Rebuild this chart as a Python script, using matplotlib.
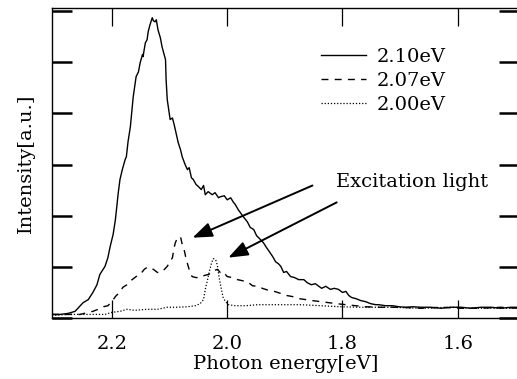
import matplotlib
matplotlib.use("Agg")
import matplotlib.pyplot as plt
import numpy as np

plt.rcParams['font.family'] = ['DejaVu Serif', 'Liberation Serif']
plt.rcParams['font.size'] = 14

# Emission spectra for three excitation energies (photon energy in eV, intensity in a.u.)
energy_210 = [2.304, 2.290, 2.276, 2.264, 2.250, 2.241, 2.233, 2.226, 2.221, 2.212,
              2.207, 2.203, 2.198, 2.194, 2.189, 2.186, 2.182, 2.177, 2.175, 2.172,
              2.168, 2.163, 2.158, 2.154, 2.151, 2.147, 2.146, 2.142, 2.139, 2.137,
              2.134, 2.130, 2.128, 2.125, 2.123, 2.120, 2.116, 2.113, 2.107, 2.106,
              2.104, 2.099, 2.095, 2.092, 2.088, 2.085, 2.081, 2.078, 2.073, 2.069,
              2.066, 2.062, 2.059, 2.054, 2.050, 2.045, 2.041, 2.038, 2.033, 2.026,
              2.021, 2.015, 2.012, 2.005, 2.000, 1.994, 1.989, 1.986, 1.981, 1.972,
              1.965, 1.960, 1.954, 1.949, 1.942, 1.937, 1.932, 1.927, 1.921, 1.916,
              1.911, 1.907, 1.902, 1.897, 1.890, 1.883, 1.876, 1.867, 1.861, 1.854,
              1.847, 1.841, 1.836, 1.829, 1.821, 1.814, 1.807, 1.800, 1.794, 1.789,
              1.784, 1.777, 1.768, 1.760, 1.751, 1.742, 1.737, 1.725, 1.713, 1.702,
              1.690, 1.678, 1.664, 1.647, 1.629, 1.612, 1.594, 1.577, 1.560, 1.542,
              1.525, 1.508, 1.497]
intensity_210 = [0.07, 0.07, 0.09, 0.13, 0.30, 0.36, 0.50, 0.65, 0.85, 1.01,
                 1.18, 1.40, 1.63, 1.92, 2.45, 2.71, 2.90, 3.10, 3.15, 3.45,
                 3.74, 4.33, 4.72, 4.81, 4.99, 5.15, 5.11, 5.38, 5.44, 5.60,
                 5.73, 5.87, 5.81, 5.79, 5.83, 5.63, 5.48, 5.30, 5.05, 4.66,
                 4.27, 3.88, 3.91, 3.78, 3.58, 3.43, 3.29, 3.15, 3.00, 2.90,
                 2.94, 2.74, 2.71, 2.61, 2.57, 2.51, 2.59, 2.41, 2.47, 2.41,
                 2.45, 2.35, 2.37, 2.39, 2.31, 2.35, 2.26, 2.22, 2.12, 1.98,
                 1.88, 1.77, 1.73, 1.61, 1.53, 1.47, 1.38, 1.30, 1.20, 1.10,
                 1.06, 1.01, 0.89, 0.91, 0.81, 0.79, 0.75, 0.75, 0.69, 0.65,
                 0.67, 0.62, 0.58, 0.62, 0.56, 0.58, 0.56, 0.50, 0.52, 0.44,
                 0.40, 0.38, 0.34, 0.32, 0.28, 0.26, 0.26, 0.24, 0.24, 0.22,
                 0.21, 0.22, 0.21, 0.21, 0.19, 0.21, 0.21, 0.19, 0.21, 0.21,
                 0.19, 0.21, 0.21]

energy_207 = [2.304, 2.281, 2.255, 2.241, 2.233, 2.224, 2.215, 2.207, 2.200, 2.194,
              2.187, 2.181, 2.174, 2.165, 2.158, 2.151, 2.144, 2.139, 2.134, 2.128,
              2.121, 2.116, 2.109, 2.104, 2.099, 2.095, 2.092, 2.090, 2.087, 2.085,
              2.081, 2.078, 2.074, 2.071, 2.066, 2.061, 2.054, 2.047, 2.040, 2.033,
              2.028, 2.022, 2.017, 2.012, 2.008, 2.003, 2.000, 1.991, 1.982, 1.974,
              1.965, 1.956, 1.947, 1.939, 1.928, 1.918, 1.907, 1.897, 1.887, 1.876,
              1.864, 1.852, 1.838, 1.824, 1.810, 1.794, 1.777, 1.760, 1.734, 1.699,
              1.664, 1.629, 1.594, 1.560, 1.525, 1.497]
intensity_207 = [0.07, 0.07, 0.07, 0.11, 0.13, 0.17, 0.22, 0.24, 0.32, 0.42,
                 0.50, 0.60, 0.65, 0.75, 0.81, 0.85, 0.95, 0.99, 0.99, 0.95,
                 0.89, 0.89, 0.95, 1.01, 1.10, 1.18, 1.38, 1.47, 1.55, 1.57,
                 1.59, 1.44, 1.30, 1.14, 0.95, 0.81, 0.79, 0.79, 0.83, 0.85,
                 0.87, 0.93, 0.95, 0.89, 0.91, 0.85, 0.81, 0.79, 0.75, 0.73,
                 0.71, 0.63, 0.62, 0.58, 0.54, 0.52, 0.48, 0.44, 0.42, 0.38,
                 0.36, 0.34, 0.32, 0.30, 0.28, 0.26, 0.24, 0.22, 0.21, 0.21,
                 0.19, 0.21, 0.19, 0.19, 0.21, 0.19]

energy_200 = [2.304, 2.273, 2.238, 2.212, 2.200, 2.186, 2.174, 2.160, 2.139, 2.121,
              2.104, 2.087, 2.069, 2.055, 2.047, 2.041, 2.038, 2.034, 2.031, 2.027,
              2.024, 2.020, 2.017, 2.014, 2.010, 2.007, 2.003, 1.998, 1.986, 1.968,
              1.947, 1.925, 1.899, 1.873, 1.838, 1.803, 1.768, 1.716, 1.664, 1.612,
              1.560, 1.497]
intensity_200 = [0.05, 0.07, 0.07, 0.07, 0.11, 0.13, 0.17, 0.15, 0.17, 0.17,
                 0.21, 0.21, 0.22, 0.24, 0.28, 0.36, 0.56, 0.75, 0.91, 1.08,
                 1.16, 1.14, 1.03, 0.79, 0.56, 0.40, 0.32, 0.26, 0.24, 0.24,
                 0.26, 0.26, 0.26, 0.26, 0.24, 0.22, 0.21, 0.21, 0.19, 0.21,
                 0.19, 0.19]

series_labels = ["2.10eV", "2.07eV", "2.00eV"]
x_ticks = [2.2, 2.0, 1.8, 1.6]
x_tick_labels = ["2.2", "2.0", "1.8", "1.6"]
y_ticks = [0, 1, 2, 3, 4, 5, 6]

# Excitation-light arrows: (tail energy, tail intensity) -> (head energy, head intensity)
arrow_tails = [(1.852, 2.59), (1.810, 2.26)]
arrow_heads = [(2.060, 1.57), (1.998, 1.18)]

fig = plt.figure(figsize=(5.17, 3.79), dpi=100)
ax = fig.add_axes([52 / 517, 61 / 379, 467 / 517, 310 / 379])

ax.plot(energy_210, intensity_210, color="black", lw=1.0, label=series_labels[0])
ax.plot(energy_207, intensity_207, color="black", lw=1.0,
        linestyle=(0, (5, 4.5)), label=series_labels[1])
ax.plot(energy_200, intensity_200, color="black", lw=0.9,
        linestyle=(0, (1, 1.5)), label=series_labels[2])

ax.set_xlim(2.304, 1.4936)
ax.set_ylim(0, 6.06)
ax.set_xticks(x_ticks)
ax.set_xticklabels(x_tick_labels)
ax.set_yticks(y_ticks)
ax.set_yticklabels([])

ax.tick_params(axis="x", which="both", direction="in", top=True, bottom=True,
               length=13, width=0.9, pad=12, labelsize=14)
ax.tick_params(axis="y", which="both", direction="in", left=True, right=True,
               length=14.5, width=1.8)
for sp in ax.spines.values():
    sp.set_linewidth(1.0)

ax.set_xlabel("Photon energy[eV]", fontsize=14, labelpad=1.5)
ax.set_ylabel("Intensity[a.u.]", fontsize=14, labelpad=9)

leg = ax.legend(loc="upper left", bbox_to_anchor=(0.576, 0.87), frameon=False,
                handlelength=2.3, handletextpad=0.55, labelspacing=0.3,
                borderpad=0, borderaxespad=0, fontsize=14)

for (tx, ty), (hx, hy) in zip(arrow_tails, arrow_heads):
    ax.annotate("", xy=(hx, hy), xytext=(tx, ty),
                arrowprops=dict(arrowstyle="-|>,head_length=0.85,head_width=0.32",
                                color="black", lw=1.4, shrinkA=0, shrinkB=0))

ax.text(1.812, 2.57, "Excitation light", fontsize=14, ha="left", va="baseline")

fig.savefig("out.png", dpi=100)
